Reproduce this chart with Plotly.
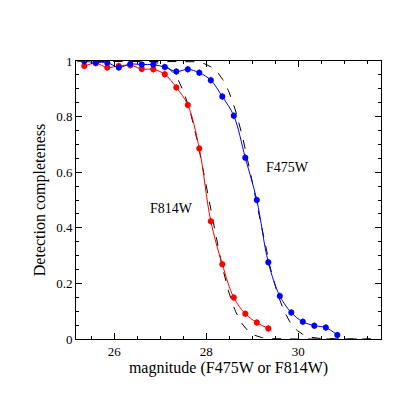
import math

import plotly.graph_objects as go

# magnitude bins (0.25 mag steps)
mag_f814w = [25.35 + 0.25 * i for i in range(17)]
comp_f814w = [0.982, 0.992, 0.977, 0.982, 0.985, 0.971, 0.970, 0.952, 0.905,
              0.842, 0.685, 0.424, 0.269, 0.149, 0.091, 0.059, 0.038]
mag_f475w = [25.35 + 0.25 * i for i in range(23)]
comp_f475w = [0.999, 0.995, 0.994, 0.977, 0.989, 0.987, 0.987, 0.978, 0.962,
              0.970, 0.958, 0.931, 0.872, 0.803, 0.652, 0.500, 0.276, 0.155,
              0.095, 0.062, 0.048, 0.041, 0.014]

# fitted completeness model: 50% magnitude and width
fit_f814w = (28.06, 0.45)
fit_f475w = (29.08, 0.48)


def model(m, m50, sigma):
    return 0.5 * math.erfc((m - m50) / (math.sqrt(2) * sigma))


grid = [25.2 + 0.02 * i for i in range(320)]

fig = go.Figure()
for m50, s in (fit_f814w, fit_f475w):
    fig.add_trace(go.Scatter(x=grid, y=[model(m, m50, s) for m in grid], mode="lines",
                             line=dict(color="black", width=1, dash="dash")))

for x, y, col in ((mag_f814w, comp_f814w, "red"), (mag_f475w, comp_f475w, "blue")):
    fig.add_trace(go.Scatter(
        x=x, y=y, mode="lines+markers",
        line=dict(color=col, width=1, shape="spline"),
        marker=dict(color=col, size=6),
        error_y=dict(type="constant", value=0.012, color=col, thickness=1, width=0),
    ))

axis = dict(showline=True, mirror="ticks", linecolor="black", linewidth=1,
            ticks="inside", ticklen=6, tickcolor="black", showgrid=False,
            zeroline=False, tickfont=dict(size=13))
fig.update_xaxes(axis, range=[25.17, 31.8], tickvals=[26, 28, 30],
                 minor=dict(ticks="inside", ticklen=3, dtick=0.5, tick0=26),
                 title=dict(text="magnitude (F475W or F814W)", standoff=4))
fig.update_yaxes(axis, range=[0, 1], tickvals=[0, 0.2, 0.4, 0.6, 0.8, 1],
                 ticktext=["0", "0.2", "0.4", "0.6", "0.8", "1"],
                 minor=dict(ticks="inside", ticklen=3, dtick=0.05),
                 title=dict(text="Detection completeness", standoff=6))

fig.add_annotation(x=29.76, y=0.616, text="F475W", showarrow=False, font=dict(size=14))
fig.add_annotation(x=27.25, y=0.468, text="F814W", showarrow=False, font=dict(size=14))

fig.update_layout(width=415, height=415, showlegend=False,
                  margin=dict(l=68, r=42, t=53, b=84),
                  plot_bgcolor="white", paper_bgcolor="white",
                  font=dict(family="Liberation Serif", color="black", size=13))

fig.write_html("out.html")
